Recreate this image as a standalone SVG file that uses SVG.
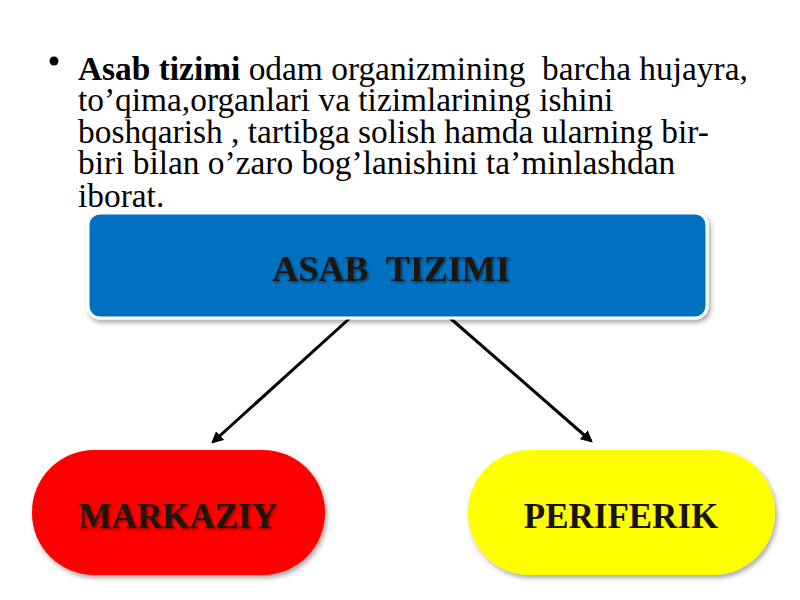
<svg xmlns="http://www.w3.org/2000/svg" width="800" height="600" viewBox="0 0 800 600">
<defs>
<style>
.lbl{font-family:"Liberation Serif","Times New Roman",serif;font-weight:bold;text-anchor:middle;fill:#1a1410}
.conn{stroke:#000;stroke-width:3;fill:none;marker-end:url(#ah)}
</style>
<marker id="ah" viewBox="0 0 10 10" refX="8" refY="5" markerWidth="4" markerHeight="4" orient="auto" markerUnits="strokeWidth">
<path d="M0,0 L10,5 L0,10 z" fill="#000"/>
</marker>
<filter id="sh" x="-10%" y="-10%" width="120%" height="130%">
<feDropShadow dx="2" dy="3" stdDeviation="2.5" flood-color="#000" flood-opacity="0.35"/>
</filter>
<filter id="tsh" x="-10%" y="-20%" width="120%" height="150%">
<feDropShadow dx="1.5" dy="1.5" stdDeviation="1" flood-color="#000" flood-opacity="0.45"/>
</filter>
</defs>
<rect width="800" height="600" fill="#fff"/>
<g id="text">
<circle cx="54" cy="61" r="4.5" fill="#000"/>
<text font-family="Liberation Serif, Times New Roman, serif" font-size="33.4" fill="#000" xml:space="preserve"><tspan x="78" y="79.5"><tspan font-weight="bold">Asab tizimi</tspan> odam organizmining  barcha hujayra,</tspan><tspan x="78" y="111">to’qima,organlari va tizimlarining ishini</tspan><tspan x="78" y="142.7">boshqarish , tartibga solish hamda ularning bir-</tspan><tspan x="78" y="174.3">biri bilan o’zaro bog’lanishini ta’minlashdan</tspan><tspan x="78" y="206.5">iborat.</tspan></text>
</g>
<g id="connectors">
<line class="conn" x1="350" y1="318" x2="213" y2="442"/>
<line class="conn" x1="450" y1="318" x2="591" y2="441"/>
</g>
<g id="node-asab">
<rect x="88" y="213" width="619" height="105" rx="12" fill="#0070C0" stroke="#fff" stroke-width="3" filter="url(#sh)"/>
<text class="lbl" x="391" y="281" font-size="36" xml:space="preserve" filter="url(#tsh)">ASAB  TIZIMI</text>
</g>
<g id="node-markaziy">
<rect x="32" y="450" width="293" height="125" rx="62" fill="#FF0000" filter="url(#sh)"/>
<text class="lbl" x="178" y="528" font-size="35" filter="url(#tsh)">MARKAZIY</text>
</g>
<g id="node-periferik">
<rect x="468" y="450" width="307" height="125" rx="62" fill="#FFFF00" filter="url(#sh)"/>
<text class="lbl" x="621" y="528" font-size="35">PERIFERIK</text>
</g>
</svg>
